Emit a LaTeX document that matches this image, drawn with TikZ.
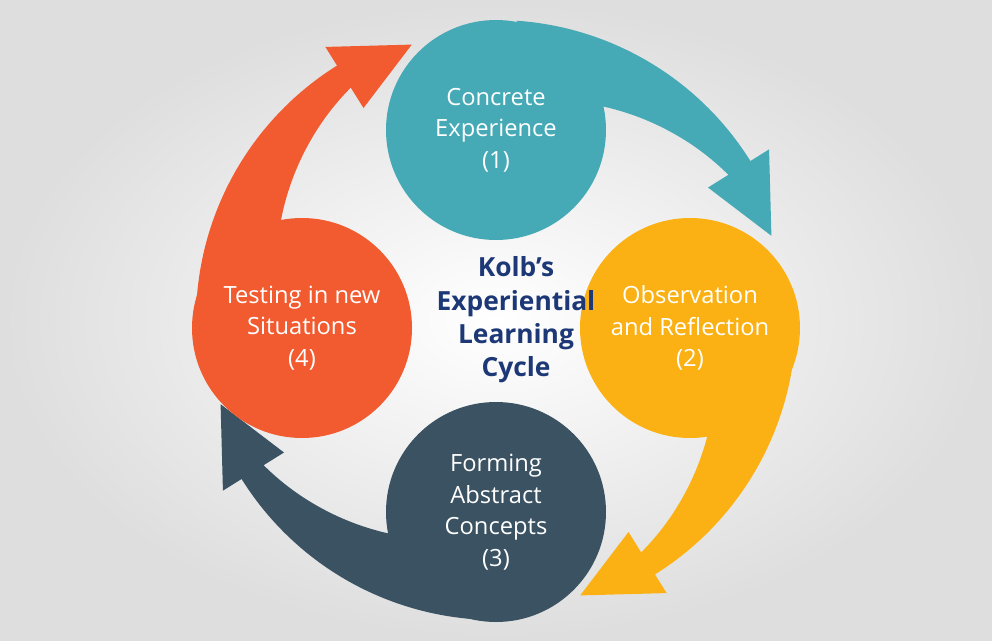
\documentclass[tikz,border=0pt]{standalone}
\usepackage{fontspec}
\setmainfont{Open Sans}
\usetikzlibrary{shadings,calc}
\definecolor{cycTeal}{HTML}{45A9B6}
\definecolor{cycGold}{HTML}{FBB113}
\definecolor{cycSlate}{HTML}{3A5262}
\definecolor{cycRed}{HTML}{F25A2F}
\definecolor{cycNavy}{HTML}{1D3876}
\tikzstyle{stage}=[circle,minimum size=220*0.02cm,inner sep=0pt,text=white,align=center,font=\fontsize{13.5}{18}\selectfont]
\tikzstyle{title}=[text=cycNavy,align=center,font=\bfseries\fontsize{15}{19}\selectfont]

\begin{document}
\begin{tikzpicture}[x=0.02cm,y=-0.02cm]

% Hintergrund
\shade[inner color=white,outer color=black!13] (0,0) rectangle (992,640);
\useasboundingbox (0,0) rectangle (992,640);

\coordinate (C) at (496,320);

% Schweife mit Pfeilspitzen
\foreach \ang/\col in {-90/cycTeal,0/cycGold,90/cycSlate,180/cycRed}
{
  \fill[\col] ($(C)+(\ang+4:300)$)
    arc[start angle=\ang+4,end angle=\ang+58,radius=300]
    -- ($(C)+(\ang+58:322)$)
    -- ($(C)+(\ang+73:288)$)
    -- ($(C)+(\ang+58:250)$)
    -- ($(C)+(\ang+58:274)$)
    .. controls ($(C)+(\ang+40:268)$) and ($(C)+(\ang+20:245)$) .. ($(C)+(\ang+4:215)$)
    -- cycle;
}

% Kreise
\node (Concrete) at ($(C)+(0,-190)$) [stage, fill=cycTeal] {Concrete\\Experience\\(1)};
\node (Observe) at ($(C)+(194,8)$) [stage, fill=cycGold] {Observation\\and Reflection\\(2)};
\node (Abstract) at ($(C)+(0,192)$) [stage, fill=cycSlate] {Forming\\Abstract\\Concepts\\(3)};
\node (Testing) at ($(C)+(-194,8)$) [stage, fill=cycRed] {Testing in new\\Situations\\(4)};

\node (Kolb) at ($(C)+(20,0)$) [title] {Kolb’s\\Experiential\\Learning\\Cycle};

\end{tikzpicture}
\end{document}
